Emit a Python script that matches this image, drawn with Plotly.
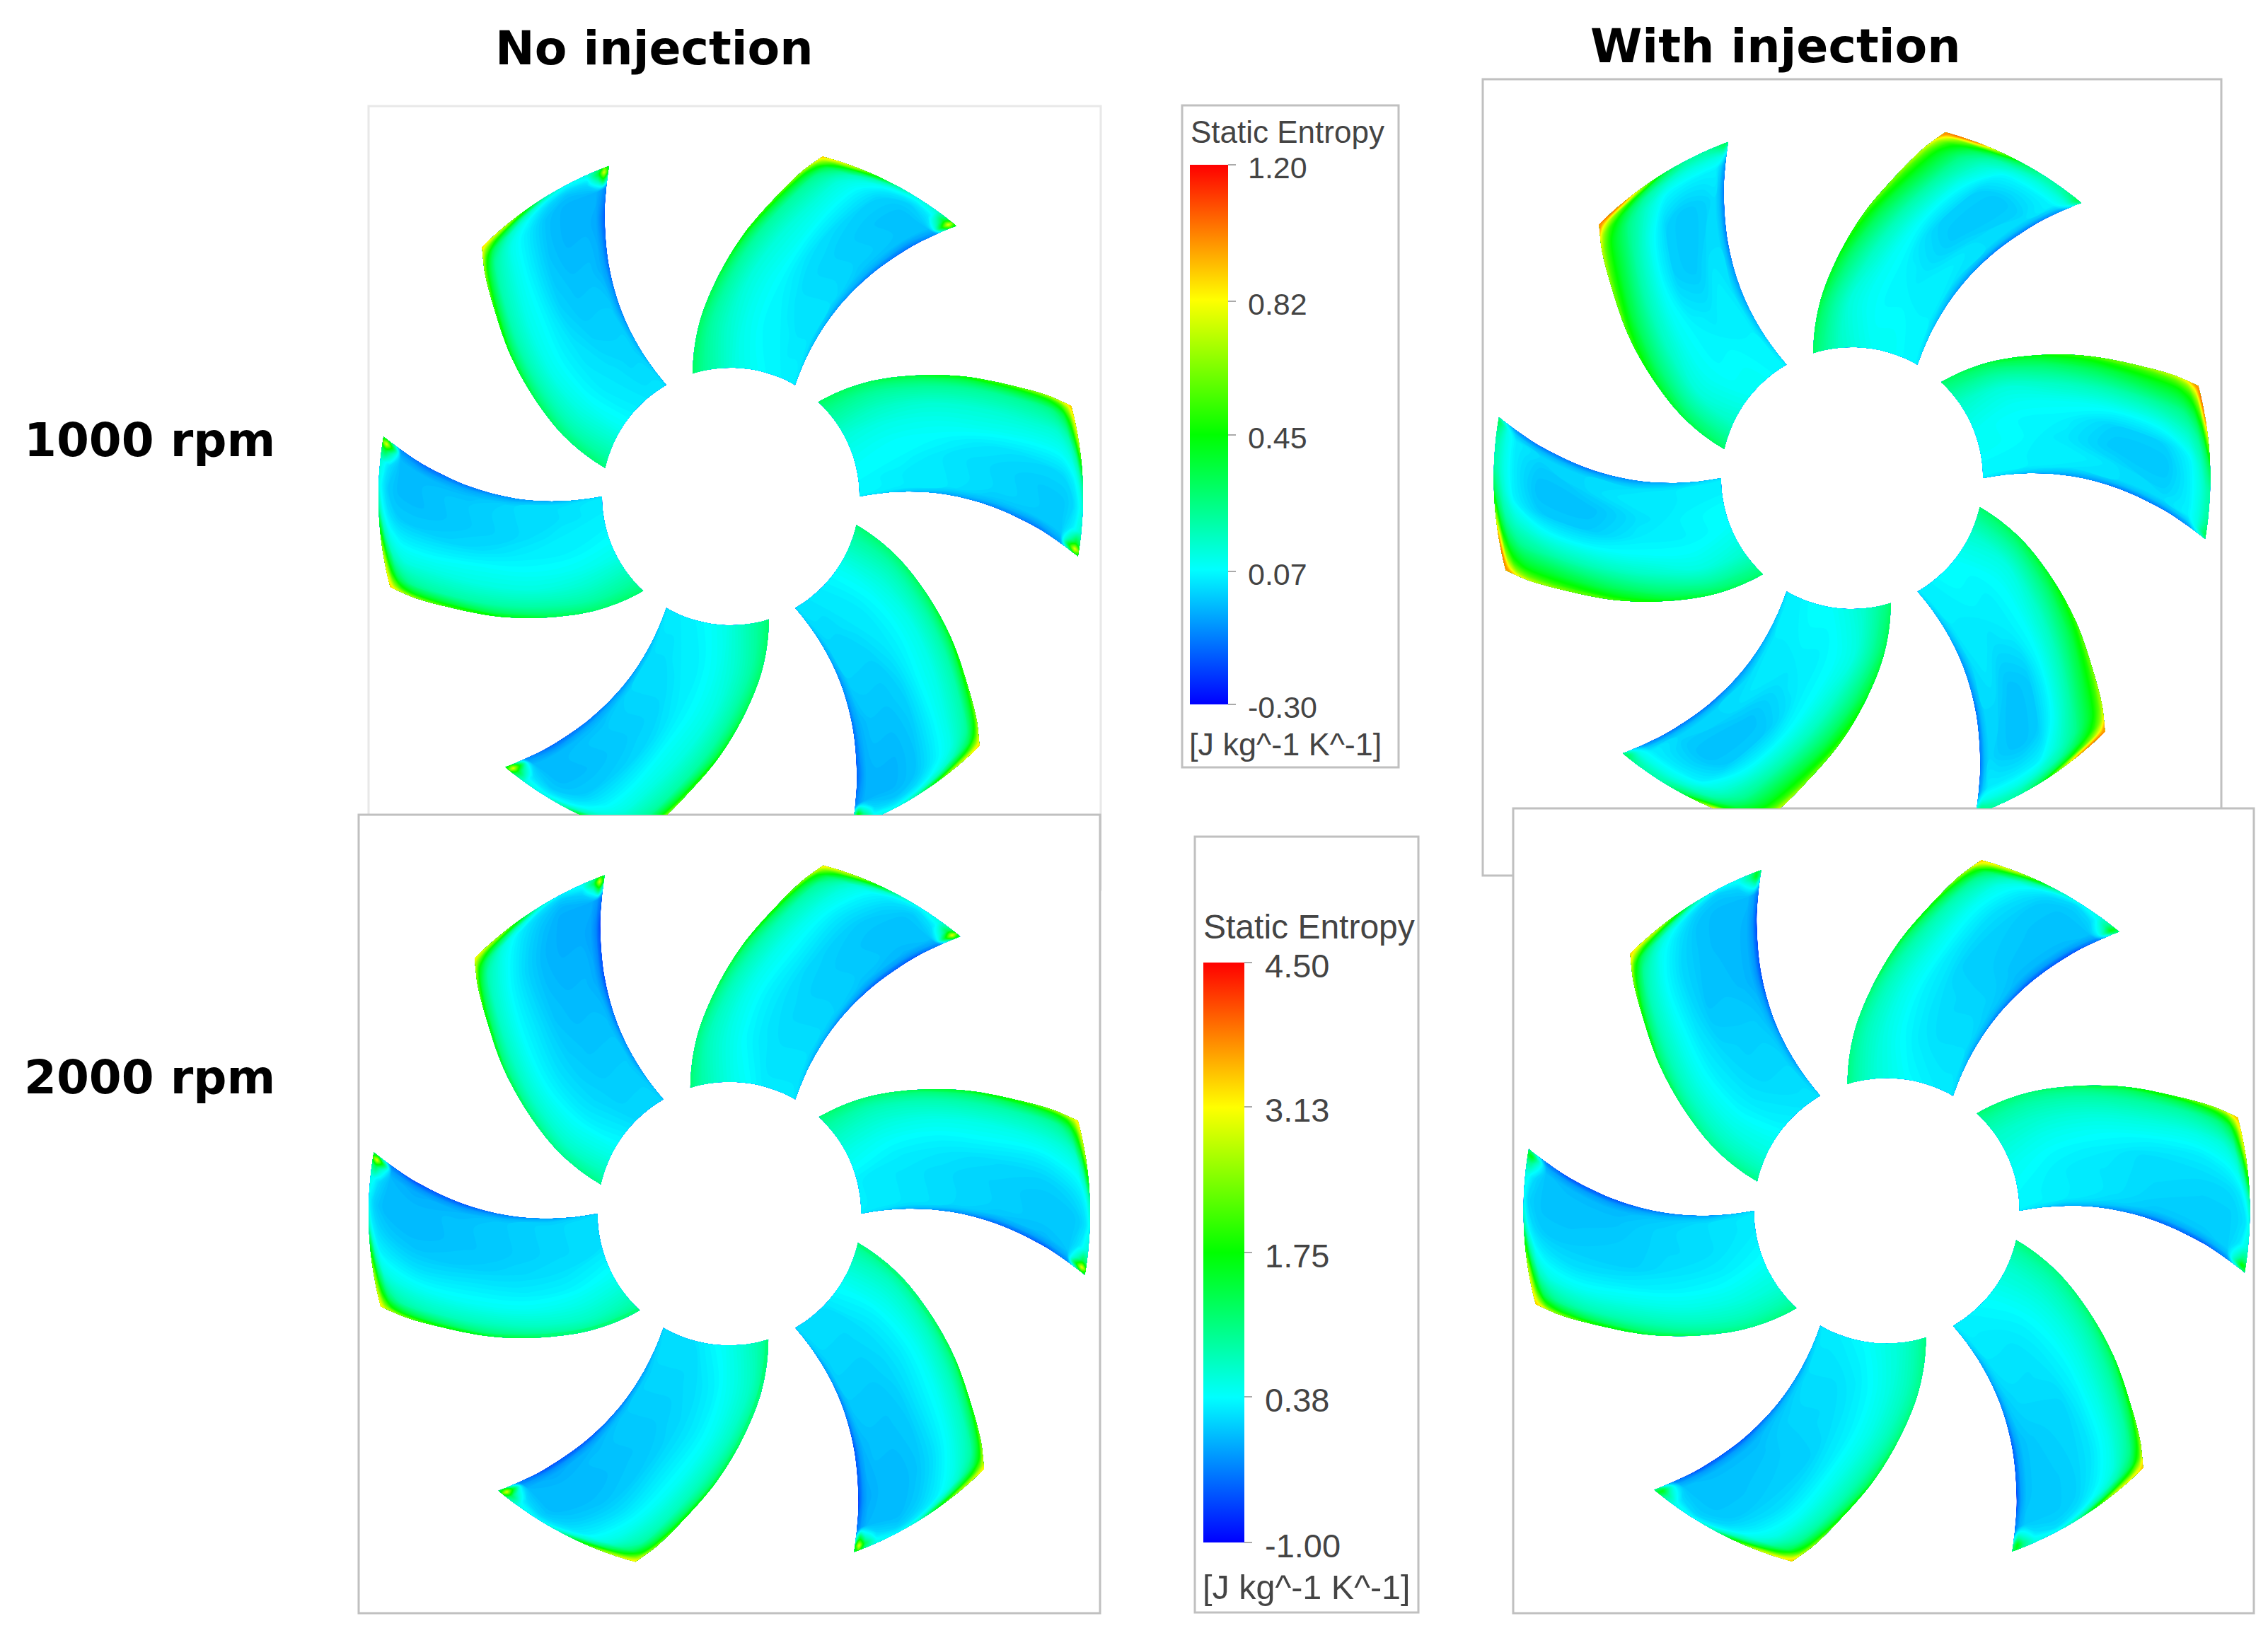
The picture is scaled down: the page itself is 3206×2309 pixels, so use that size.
import numpy as np
import plotly.graph_objects as go

# the page body has an 8px margin, so the figure is 8px smaller than the window
PAGE_W, PAGE_H, BODY = 3206, 2309, 8
W, H = PAGE_W - BODY, PAGE_H - BODY

# blade outline, polar, angles of both edges at each radius (px at panel A scale, degrees)
RADII = [182, 245, 306, 370, 435, 470, 484, 492, 498]
TH_CONCAVE = [60.0, 61.6, 60.5, 57.8, 54.2, 52.0, 51.1, 50.6, 50.2]
TH_CONVEX = [107.2, 100.7, 93.9, 87.3, 80.8, 77.7, 76.3, 75.5, 74.9]
ACROSS = [0, 0.03, 0.07, 0.15, 0.3, 0.45, 0.6, 0.75, 0.9, 0.97, 1]
N_BLADES = 6

# entropy on a blade, rows = RADII, cols = ACROSS
Z_NOINJ_1000 = [
    [0.03, 0.05, 0.05, 0.05, 0.06, 0.08, 0.11, 0.17, 0.23, 0.27, 0.30],
    [-0.03, 0.02, 0.03, 0.03, 0.05, 0.06, 0.09, 0.14, 0.21, 0.27, 0.30],
    [-0.08, -0.02, 0.02, 0.02, 0.02, 0.05, 0.08, 0.12, 0.21, 0.29, 0.35],
    [-0.12, -0.05, -0.02, 0.00, 0.00, 0.02, 0.08, 0.12, 0.21, 0.33, 0.45],
    [-0.14, -0.08, -0.03, -0.02, -0.02, 0.00, 0.06, 0.12, 0.21, 0.39, 0.57],
    [-0.09, -0.05, -0.02, -0.02, -0.02, 0.00, 0.06, 0.12, 0.24, 0.45, 0.69],
    [0.23, 0.45, 0.20, 0.03, 0.00, 0.03, 0.09, 0.17, 0.33, 0.54, 0.75],
    [0.45, 0.78, 0.38, 0.09, 0.05, 0.08, 0.18, 0.36, 0.54, 0.69, 0.81],
    [0.38, 0.57, 0.33, 0.15, 0.11, 0.20, 0.45, 0.72, 0.83, 0.87, 0.90],
]
Z_INJ_1000 = [
    [0.03, 0.06, 0.06, 0.06, 0.08, 0.08, 0.11, 0.15, 0.23, 0.27, 0.30],
    [-0.03, 0.02, 0.05, 0.05, 0.06, 0.06, 0.08, 0.12, 0.23, 0.30, 0.35],
    [-0.08, -0.02, 0.03, 0.05, 0.03, 0.05, 0.08, 0.15, 0.27, 0.36, 0.42],
    [-0.12, -0.03, 0.02, 0.02, -0.02, 0.00, 0.08, 0.18, 0.33, 0.45, 0.54],
    [-0.12, -0.03, 0.02, 0.00, -0.02, 0.00, 0.09, 0.21, 0.39, 0.53, 0.66],
    [-0.09, 0.00, 0.05, 0.05, 0.05, 0.06, 0.14, 0.24, 0.42, 0.60, 0.75],
    [0.03, 0.11, 0.11, 0.11, 0.11, 0.14, 0.20, 0.32, 0.50, 0.68, 0.83],
    [0.15, 0.24, 0.20, 0.17, 0.17, 0.23, 0.33, 0.50, 0.69, 0.84, 0.96],
    [0.24, 0.33, 0.27, 0.21, 0.21, 0.33, 0.63, 0.96, 1.05, 1.02, 0.98],
]
Z_NOINJ_2000 = [
    [0.16, 0.21, 0.21, 0.21, 0.21, 0.32, 0.43, 0.60, 0.82, 0.98, 1.09],
    [-0.12, 0.10, 0.16, 0.16, 0.16, 0.21, 0.32, 0.49, 0.71, 0.93, 1.09],
    [-0.29, -0.01, 0.10, 0.10, 0.10, 0.16, 0.27, 0.43, 0.71, 0.98, 1.26],
    [-0.51, -0.18, -0.01, 0.05, 0.05, 0.10, 0.27, 0.43, 0.76, 1.09, 1.53],
    [-0.56, -0.23, -0.07, -0.01, -0.01, 0.05, 0.21, 0.43, 0.76, 1.31, 1.97],
    [-0.34, -0.12, -0.01, -0.01, -0.01, 0.10, 0.27, 0.49, 0.87, 1.59, 2.47],
    [0.65, 1.64, 0.65, 0.16, 0.05, 0.16, 0.32, 0.60, 1.20, 1.86, 2.74],
    [1.48, 2.96, 1.31, 0.38, 0.16, 0.27, 0.65, 1.26, 1.92, 2.47, 2.85],
    [1.31, 2.03, 1.09, 0.54, 0.38, 0.65, 1.64, 2.58, 2.96, 3.13, 3.18],
]
Z_INJ_2000 = [
    [0.21, 0.27, 0.27, 0.27, 0.32, 0.38, 0.49, 0.60, 0.82, 0.98, 1.09],
    [-0.12, 0.10, 0.21, 0.21, 0.21, 0.27, 0.38, 0.54, 0.76, 0.93, 1.04],
    [-0.29, -0.01, 0.10, 0.16, 0.16, 0.21, 0.32, 0.49, 0.76, 0.98, 1.20],
    [-0.51, -0.18, -0.01, 0.05, 0.10, 0.10, 0.27, 0.49, 0.82, 1.15, 1.53],
    [-0.56, -0.18, -0.01, 0.05, 0.05, 0.10, 0.21, 0.43, 0.82, 1.37, 2.03],
    [-0.34, -0.07, 0.05, 0.05, 0.05, 0.10, 0.27, 0.49, 0.98, 1.75, 2.58],
    [0.38, 0.87, 0.54, 0.16, 0.10, 0.16, 0.38, 0.71, 1.31, 2.08, 2.85],
    [0.98, 1.64, 0.98, 0.38, 0.16, 0.32, 0.82, 1.48, 2.14, 2.74, 3.24],
    [1.09, 1.53, 0.98, 0.54, 0.43, 0.76, 1.86, 2.85, 3.18, 3.29, 3.40],
]

# small offset per blade, clockwise from the top right one (same units as z)
SHIFT_NOINJ_1000 = [0.01, 0.02, -0.01, 0.00, 0.00, -0.015]
SHIFT_INJ_1000 = [0.01, 0.01, 0.00, 0.00, 0.00, 0.01]
SHIFT_NOINJ_2000 = [0.05, 0.08, 0.00, 0.00, 0.00, -0.05]
SHIFT_INJ_2000 = [0.00, 0.08, 0.04, 0.00, 0.00, -0.04]

RANGE_1000 = (-0.30, 1.20)
RANGE_2000 = (-1.00, 4.50)
TICKS_1000 = ["-0.30", "0.07", "0.45", "0.82", "1.20"]
TICKVALS_1000 = [-0.30, 0.07, 0.45, 0.82, 1.20]
TICKS_2000 = ["-1.00", "0.38", "1.75", "3.13", "4.50"]
TICKVALS_2000 = [-1.00, 0.38, 1.75, 3.13, 4.50]

JET = [[0, "#0000ff"], [0.25, "#00ffff"], [0.5, "#00ff00"], [0.75, "#ffff00"], [1, "#ff0000"]]

# name, z, shift, range, axis domain px (x0,x1,y0,y1), hub centre px, scale
PANELS = [
    ("A", Z_NOINJ_1000, SHIFT_NOINJ_1000, RANGE_1000, (521, 1556, 150, 1152), (1033, 702), 1.0),
    ("B", Z_INJ_1000, SHIFT_INJ_1000, RANGE_1000, (2096, 3140, 112, 1143), (2618, 676), 1.017),
    ("C", Z_NOINJ_2000, SHIFT_NOINJ_2000, RANGE_2000, (507, 1555, 1152, 2281), (1031, 1716), 1.024),
    ("D", Z_INJ_2000, SHIFT_INJ_2000, RANGE_2000, (2139, 3186, 1143, 2281), (2667, 1712), 1.031),
]


def px(x):
    return (x - BODY) / W


def py(y):
    return 1 - (y - BODY) / H


def blade_xy(k):
    r = np.array(RADII, dtype=float)[:, None]
    c = np.array(TH_CONCAVE)[:, None]
    v = np.array(TH_CONVEX)[:, None]
    th = np.radians(c + (v - c) * np.array(ACROSS)[None, :] - 60 * k)
    return (r * np.cos(th)).tolist(), (r * np.sin(th)).tolist()


fig = go.Figure()
layout_axes = {}

for i, (name, z, shift, rng, dom, centre, scale) in enumerate(PANELS):
    suffix = "" if i == 0 else str(i + 1)
    x0, x1, y0, y1 = dom
    layout_axes["xaxis" + suffix] = dict(
        domain=[px(x0), px(x1)], range=[(x0 - centre[0]) / scale, (x1 - centre[0]) / scale],
        visible=False, fixedrange=True,
    )
    layout_axes["yaxis" + suffix] = dict(
        domain=[py(y1), py(y0)], range=[(centre[1] - y1) / scale, (centre[1] - y0) / scale],
        visible=False, fixedrange=True,
    )
    for k in range(N_BLADES):
        cid = f"{name}{k}"
        xs, ys = blade_xy(k)
        hidden = dict(showgrid=False, showline=False, showticklabels="none", startline=False,
                      endline=False, smoothing=1, minorgridcount=0)
        fig.add_trace(go.Carpet(
            carpet=cid, a=ACROSS, b=RADII, x=xs, y=ys,
            aaxis=hidden, baxis=hidden,
            xaxis="x" + suffix, yaxis="y" + suffix,
        ))
        fig.add_trace(go.Contourcarpet(
            carpet=cid, a=ACROSS, b=RADII, z=(np.array(z) + shift[k]).tolist(),
            colorscale=JET, zmin=rng[0], zmax=rng[1], autocontour=False,
            contours=dict(start=rng[0], end=rng[1], size=(rng[1] - rng[0]) / 150, coloring="fill", showlines=False),
            line=dict(width=0), showscale=False,
            xaxis="x" + suffix, yaxis="y" + suffix,
        ))


def colorbar_trace(rng, vals, xaxis, yaxis, bar_x, bar_top, bar_bottom, thick):
    # only here to carry the colour bar, z is just the scale ends
    return go.Heatmap(
        z=[[rng[0], rng[1]]], x=[0, 1], y=[0], visible=True, opacity=0, hoverinfo="skip",
        colorscale=JET, zmin=rng[0], zmax=rng[1], xaxis=xaxis, yaxis=yaxis,
        colorbar=dict(
            x=px(bar_x), xanchor="left", xpad=0, y=py(bar_top), yanchor="top", ypad=0,
            lenmode="pixels", len=bar_bottom - bar_top, thicknessmode="pixels", thickness=thick,
            outlinewidth=0, tickmode="array", tickvals=vals, showticklabels=False,
            ticks="outside", ticklen=11, tickcolor="#aaaaaa", tickwidth=2,
        ),
    )


fig.add_trace(colorbar_trace(RANGE_1000, TICKVALS_1000, "x", "y", 1682, 233, 996, 54))
fig.add_trace(colorbar_trace(RANGE_2000, TICKVALS_2000, "x3", "y3", 1701, 1361, 2181, 58))

FRAME = "#c0c0c0"
shapes = []
for x0, y0, x1, y1, col in [
    (521, 150, 1556, 1258, "#e8e8e8"),
    (507, 1152, 1555, 2281, FRAME),
    (2096, 112, 3140, 1238, FRAME),
    (2139, 1143, 3186, 2281, FRAME),
    (1671, 149, 1977, 1085, FRAME),
    (1689, 1183, 2005, 2280, FRAME),
]:
    shapes.append(dict(type="rect", xref="paper", yref="paper", layer="below",
                       x0=px(x0), x1=px(x1), y0=py(y0), y1=py(y1),
                       line=dict(color=col, width=3), fillcolor="white"))

annotations = []
for text, x, y, size, family, color, bold in [
    ("No injection", 925, 68, 66.5, "DejaVu Sans", "#000000", True),
    ("With injection", 2510, 65, 66.5, "DejaVu Sans", "#000000", True),
    ("1000 rpm", 212, 623, 66, "DejaVu Sans", "#000000", True),
    ("2000 rpm", 212, 1523, 66, "DejaVu Sans", "#000000", True),
    ("Static Entropy", 1820, 186, 44, "Liberation Sans", "#444444", False),
    ("[J kg^-1 K^-1]", 1817, 1052, 45, "Liberation Sans", "#444444", False),
    ("Static Entropy", 1850, 1310, 48, "Liberation Sans", "#444444", False),
    ("[J kg^-1 K^-1]", 1847, 2244, 48.5, "Liberation Sans", "#444444", False),
]:
    annotations.append(dict(
        text=f"<b>{text}</b>" if bold else text, x=px(x), y=py(y), xref="paper", yref="paper",
        xanchor="center", yanchor="middle", showarrow=False,
        font=dict(family=family, size=size, color=color),
    ))

# colour bar tick labels sit a little below their ticks in the original
for labels, vals, rng, lx, top, bottom, size in [
    (TICKS_1000, TICKVALS_1000, RANGE_1000, 1763, 233, 996, 43),
    (TICKS_2000, TICKVALS_2000, RANGE_2000, 1787, 1361, 2181, 47),
]:
    for label, v in zip(labels, vals):
        y = top + (rng[1] - v) / (rng[1] - rng[0]) * (bottom - top) + 4
        annotations.append(dict(
            text=label, x=px(lx), y=py(y), xref="paper", yref="paper",
            xanchor="left", yanchor="middle", showarrow=False, xshift=-1,
            font=dict(family="Liberation Sans", size=size, color="#444444"),
        ))

fig.update_layout(
    width=W, height=H, margin=dict(l=0, r=0, t=0, b=0),
    paper_bgcolor="white", plot_bgcolor="rgba(0,0,0,0)",
    showlegend=False, shapes=shapes, annotations=annotations,
    **layout_axes,
)

fig.write_html("out.html")
